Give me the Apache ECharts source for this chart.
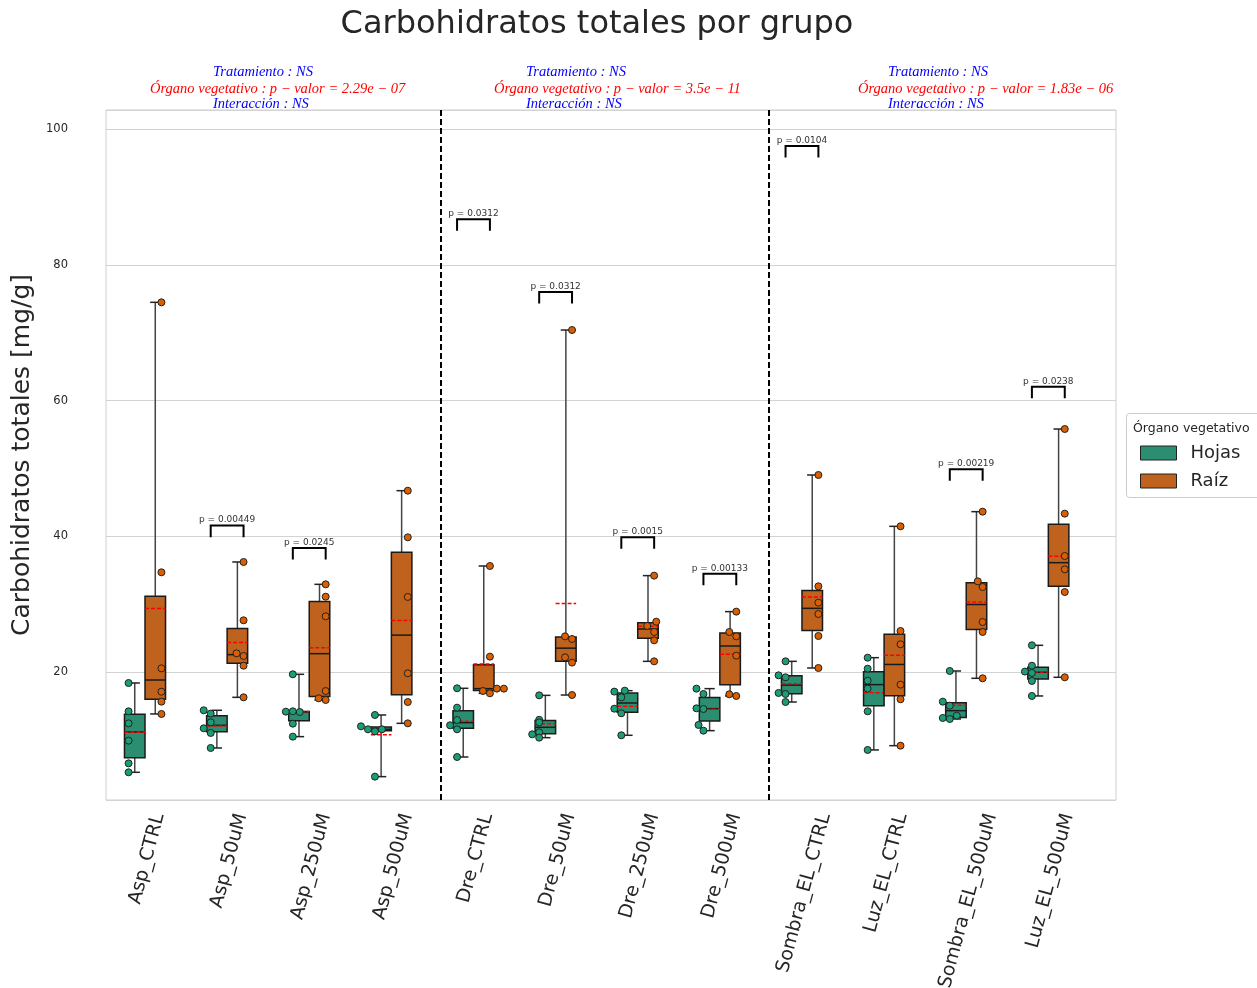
<!DOCTYPE html>
<html>
<head>
<meta charset="utf-8">
<script src="https://cdn.jsdelivr.net/npm/echarts@6/dist/echarts.min.js"></script>
<style>
html,body{margin:0;padding:0;background:#ffffff;}
#chart{width:1257px;height:988px;}
</style>
</head>
<body>
<div id="chart"></div>
<script>
// ---------------- DATA ----------------
const CATEGORIES = ['Asp_CTRL','Asp_50uM','Asp_250uM','Asp_500uM','Dre_CTRL','Dre_50uM','Dre_250uM','Dre_500uM','Sombra_EL_CTRL','Luz_EL_CTRL','Sombra_EL_500uM','Luz_EL_500uM'];

// Carbohidratos totales [mg/g], one list of replicate values per category
const HOJAS_VALUES = [
  [18.42, 14.25, 12.48, 9.93, 6.59, 5.27],
  [14.40, 13.91, 12.63, 11.75, 11.06, 8.85],
  [19.70, 14.20, 14.25, 14.15, 12.43, 10.52],
  [13.71, 12.04, 11.60, 11.60, 11.30, 4.63],
  [17.64, 14.79, 12.97, 12.19, 11.60, 7.52],
  [16.60, 13.00, 12.63, 11.16, 10.86, 10.37],
  [17.15, 17.29, 16.31, 14.64, 13.96, 10.72],
  [17.59, 16.80, 14.69, 14.59, 12.24, 11.40],
  [21.61, 19.55, 19.26, 16.95, 16.80, 15.62],
  [22.15, 20.53, 18.77, 17.59, 14.25, 8.56],
  [20.19, 15.67, 15.08, 13.61, 13.27, 13.12],
  [23.97, 20.97, 20.10, 19.90, 18.72, 16.51]
];
const RAIZ_VALUES = [
  [74.48, 34.72, 20.58, 17.14, 15.67, 13.86],
  [36.24, 27.65, 22.79, 22.40, 20.97, 16.31],
  [32.95, 31.13, 28.24, 17.24, 16.16, 15.92],
  [46.74, 39.87, 31.09, 19.85, 15.62, 12.48],
  [35.65, 22.30, 17.59, 17.59, 17.24, 16.90],
  [70.40, 25.29, 24.90, 22.20, 21.42, 16.65],
  [34.23, 27.45, 26.82, 25.93, 24.70, 21.61],
  [28.93, 25.93, 25.29, 22.45, 16.75, 16.51],
  [49.05, 32.66, 30.25, 28.58, 25.34, 20.63],
  [41.49, 26.08, 24.12, 18.18, 16.02, 9.19],
  [43.65, 33.39, 32.56, 27.40, 25.93, 19.11],
  [55.82, 43.36, 37.12, 35.16, 31.82, 19.26]
];

// strip-plot jitter (in jitter steps) observed for each point
const HOJAS_JITTER = [
  [0,0,0,0,0,0],[-1,0,0,-1,0,0],[0,-1,0,1,0,0],[0,-2,-1,1,0,0],
  [0,0,0,-1,0,0],[0,0,0,0,-1,0],[-1,0.5,0,-1,0,0],[-1,0,-1,0,-0.7,0],
  [0,-1,0,-1,0,0],[0,0,0,0,0,0],[0,-1,0,1,-1,0],[0,0,-1,0,0,0]
];
const RAIZ_JITTER = [
  [0,0,0,0,0,0],[0,0,-1,0,0,0],[0,0,0,0,-1,0],[0,0,0,0,0,0],
  [0,0,1,2,-1,0],[0,-1,0,-1,0,0],[0,0.3,-1,0,0,0],[0,-1,0,0,-1,0],
  [0,0,0,0,0,0],[0,0,0,0,0,0],[0,-0.7,0,0,0,0],[0,0,0,0,0,0]
];

// pairwise comparisons (Hojas vs Raíz)
const P_CATEGORIES = ['Asp_50uM','Asp_250uM','Dre_CTRL','Dre_50uM','Dre_250uM','Dre_500uM','Sombra_EL_CTRL','Sombra_EL_500uM','Luz_EL_500uM'];
const P_LABELS = ['p = 0.00449','p = 0.0245','p = 0.0312','p = 0.0312','p = 0.0015','p = 0.00133','p = 0.0104','p = 0.00219','p = 0.0238'];
const P_LEVELS = [41.6, 38.3, 86.7, 76.0, 39.9, 34.5, 97.5, 49.9, 62.05];

// two-way ANOVA summaries per block
const BLOCK_TRATAMIENTO = ['NS','NS','NS'];
const BLOCK_ORGANO_P = ['2.29e − 07','3.5e − 11','1.83e − 06'];
const BLOCK_INTERACCION = ['NS','NS','NS'];
const BLOCK_DIVIDERS = [3.6, 7.6];

const Y_TICKS = [20, 40, 60, 80, 100];

// ---------------- LAYOUT / STYLE ----------------
const X_MIN = -0.475, X_MAX = 11.824;
const Y_MIN = 1.19, Y_MAX = 102.8;
const BOX_W = 0.25, DODGE = 0.2, JIT_STEP = 0.085, LEG = 1.7;
const GRID = {left:106, top:110, right:1257-1116, bottom:988-800};
const C_HOJAS_BOX = '#2c8e70', C_RAIZ_BOX = '#be621d';
const C_HOJAS_PT = '#1b9e77', C_RAIZ_PT = '#d95f02';
const TXT = '#262626';
const FONT = 'DejaVu Sans';

function quantile(s, p){
  const h = (s.length - 1) * p, lo = Math.floor(h), hi = Math.ceil(h);
  return s[lo] + (h - lo) * (s[hi] - s[lo]);
}
function stats(arr){
  const s = arr.slice().sort((a,b)=>a-b);
  return [s[0], quantile(s,0.25), quantile(s,0.5), quantile(s,0.75), s[s.length-1], arr.reduce((a,b)=>a+b,0)/arr.length];
}
const measureCtx = document.createElement('canvas').getContext('2d');
function textWidth(t, font){ measureCtx.font = font; return measureCtx.measureText(t).width; }

function boxSeries(name, values, side, fill){
  return {
    type:'custom', name: name, clip:false, z:2,
    itemStyle:{color: fill},
    data: values.map((arr,i)=>[i].concat(stats(arr))),
    encode:{x:0, y:[1,5]},
    renderItem: function(params, api){
      const c = api.value(0);
      const mn = api.value(1), q1 = api.value(2), md = api.value(3), q3 = api.value(4), mx = api.value(5), mean = api.value(6);
      const x0 = c + (side < 0 ? -BOX_W : 0), x1 = x0 + BOX_W, xm = x0 + BOX_W/2;
      const pA = api.coord([x0, q3]), pB = api.coord([x1, q1]);
      const xM = api.coord([xm, md])[0];
      const yMn = api.coord([xm, mn])[1], yMx = api.coord([xm, mx])[1];
      const yMd = api.coord([xm, md])[1], yMean = api.coord([xm, mean])[1];
      const capH = (pB[0]-pA[0]) / 4;
      const wStyle = {stroke:'#444444', lineWidth:1.5};
      const cStyle = {stroke:'#222222', lineWidth:1.5};
      return {type:'group', children:[
        {type:'line', shape:{x1:xM, y1:pA[1], x2:xM, y2:yMx}, style:wStyle},
        {type:'line', shape:{x1:xM, y1:pB[1], x2:xM, y2:yMn}, style:wStyle},
        {type:'line', shape:{x1:xM-capH, y1:yMx, x2:xM+capH, y2:yMx}, style:cStyle},
        {type:'line', shape:{x1:xM-capH, y1:yMn, x2:xM+capH, y2:yMn}, style:cStyle},
        {type:'rect', shape:{x:pA[0], y:pA[1], width:pB[0]-pA[0], height:pB[1]-pA[1]}, style:{fill:fill, stroke:'#1a1a1a', lineWidth:1.5}},
        {type:'line', shape:{x1:pA[0], y1:yMd, x2:pB[0], y2:yMd}, style:{stroke:'#1a1a1a', lineWidth:1.5}},
        {type:'line', shape:{x1:pA[0], y1:yMean, x2:pB[0], y2:yMean}, style:{stroke:'#ff0000', lineWidth:1.5, lineDash:[4,2]}}
      ]};
    }
  };
}

function pointSeries(name, values, jitter, side, color){
  const data = [];
  values.forEach((arr,i)=>arr.forEach((v,k)=>data.push([i + side*DODGE + jitter[i][k]*JIT_STEP, v])));
  return {
    type:'scatter', name:name, data:data, z:5, symbol:'circle', symbolSize:7,
    itemStyle:{color:color, borderColor:'#222222', borderWidth:1, opacity:1},
    emphasis:{disabled:true}
  };
}

const bracketSeries = {
  type:'custom', name:'comparaciones', clip:false, z:6,
  data: P_CATEGORIES.map((c,k)=>[CATEGORIES.indexOf(c), P_LEVELS[k], k]),
  encode:{x:0, y:1},
  renderItem: function(params, api){
    const c = api.value(0), y = api.value(1), k = api.value(2);
    const pL = api.coord([c-DODGE, y]), pR = api.coord([c+DODGE, y]);
    const yb = api.coord([c, y-LEG])[1];
    return {type:'group', children:[
      {type:'polyline', shape:{points:[[pL[0],yb],[pL[0],pL[1]],[pR[0],pR[1]],[pR[0],yb]]}, style:{stroke:'#000000', lineWidth:2, fill:null}},
      {type:'text', x:(pL[0]+pR[0])/2, y:pL[1]-1, style:{text:P_LABELS[k], fontSize:9, fontFamily:FONT, fill:'#333333', align:'center', verticalAlign:'bottom'}}
    ]};
  },
  markLine:{
    silent:true, symbol:['none','none'], label:{show:false},
    lineStyle:{color:'#000000', width:2, type:[6,3]},
    data: BLOCK_DIVIDERS.map(v=>({xAxis:v}))
  }
};

const ROT = 75 * Math.PI / 180;
const X_LABEL_FONT = 19;
const xLabelSeries = {
  type:'custom', name:'etiquetas', clip:false, z:6, silent:true,
  data: CATEGORIES.map((c,i)=>[i]),
  encode:{x:0},
  renderItem: function(params, api){
    const i = api.value(0);
    const p = api.coord([i, Y_MIN]);
    const label = CATEGORIES[i];
    const L = textWidth(label, X_LABEL_FONT + 'px "' + FONT + '"');
    const h = 22;
    const H = L*Math.sin(ROT) + h*Math.cos(ROT);
    return {type:'text', x:p[0] + 2, y:p[1] + 11 + H/2, rotation:ROT,
      style:{text:label, fontSize:X_LABEL_FONT, fontFamily:FONT, fill:TXT, align:'center', verticalAlign:'middle'}};
  }
};

// block annotation texts
const ANN_FONT = 'italic 14.5px "Liberation Serif"';
const blockLeftBlue = [213, 526, 888];
const blockLeftRed = [150, 494, 858];
const annGraphics = [];
for (let b = 0; b < 3; b++){
  annGraphics.push({type:'text', left:blockLeftBlue[b], top:65, style:{text:'Tratamiento : ' + BLOCK_TRATAMIENTO[b], font:ANN_FONT, fill:'#0000ff'}});
  annGraphics.push({type:'text', left:blockLeftRed[b], top:82, style:{text:'Órgano vegetativo : p − valor = ' + BLOCK_ORGANO_P[b], font:ANN_FONT, fill:'#ff0000'}});
  annGraphics.push({type:'text', left:blockLeftBlue[b], top:97, style:{text:'Interacción : ' + BLOCK_INTERACCION[b], font:ANN_FONT, fill:'#0000ff'}});
}

const TITLE = 'Carbohidratos totales por grupo';
const titleW = textWidth(TITLE, '32px "' + FONT + '"');

const chart = echarts.init(document.getElementById('chart'), null, {renderer:'canvas'});
chart.setOption({
  animation:false,
  backgroundColor:'#ffffff',
  textStyle:{fontFamily:FONT},
  title:{text:TITLE, left:597 - titleW/2 - 5, top:4, textStyle:{fontSize:32, fontWeight:'normal', color:TXT, fontFamily:FONT}},
  grid:{left:GRID.left, top:GRID.top, right:GRID.right, bottom:GRID.bottom, show:true, borderColor:'#cfcfcf', borderWidth:1, backgroundColor:'#ffffff', containLabel:false},
  xAxis:{type:'value', min:X_MIN, max:X_MAX, axisLine:{show:false}, axisTick:{show:false}, axisLabel:{show:false}, splitLine:{show:false}},
  yAxis:{type:'value', min:Y_MIN, max:Y_MAX,
    axisLine:{show:false}, axisTick:{show:false},
    splitLine:{show:true, lineStyle:{color:'#d3d3d3', width:1}},
    axisLabel:{fontSize:11.5, color:TXT, margin:38, showMinLabel:false, showMaxLabel:false,
      formatter:function(v){ return Y_TICKS.indexOf(Math.round(v*1000)/1000) >= 0 ? String(v) : ''; }},
    name:'Carbohidratos totales [mg/g]', nameLocation:'middle', nameGap:67,
    nameTextStyle:{fontSize:25, color:TXT, fontFamily:FONT}
  },
  legend:{data:['Hojas','Raíz'], orient:'vertical', left:1140, top:444, padding:0, icon:'rect', itemWidth:36, itemHeight:14, itemGap:10,
    selectedMode:false, itemStyle:{borderColor:'#222222', borderWidth:1},
    textStyle:{fontSize:18, color:TXT, fontFamily:FONT, padding:[0,0,0,9]}},
  graphic:[
    {type:'rect', left:1126, top:413, z:0, shape:{width:140, height:84, r:3}, style:{fill:'#ffffff', stroke:'#cccccc', lineWidth:1}},
    {type:'text', left:1133, top:422, z:1, style:{text:'Órgano vegetativo', fontSize:12.5, fontFamily:FONT, fill:TXT}}
  ].concat(annGraphics),
  series:[
    boxSeries('Hojas', HOJAS_VALUES, -1, C_HOJAS_BOX),
    boxSeries('Raíz', RAIZ_VALUES, 1, C_RAIZ_BOX),
    pointSeries('Hojas (réplicas)', HOJAS_VALUES, HOJAS_JITTER, -1, C_HOJAS_PT),
    pointSeries('Raíz (réplicas)', RAIZ_VALUES, RAIZ_JITTER, 1, C_RAIZ_PT),
    bracketSeries,
    xLabelSeries
  ]
});
</script>
</body>
</html>
